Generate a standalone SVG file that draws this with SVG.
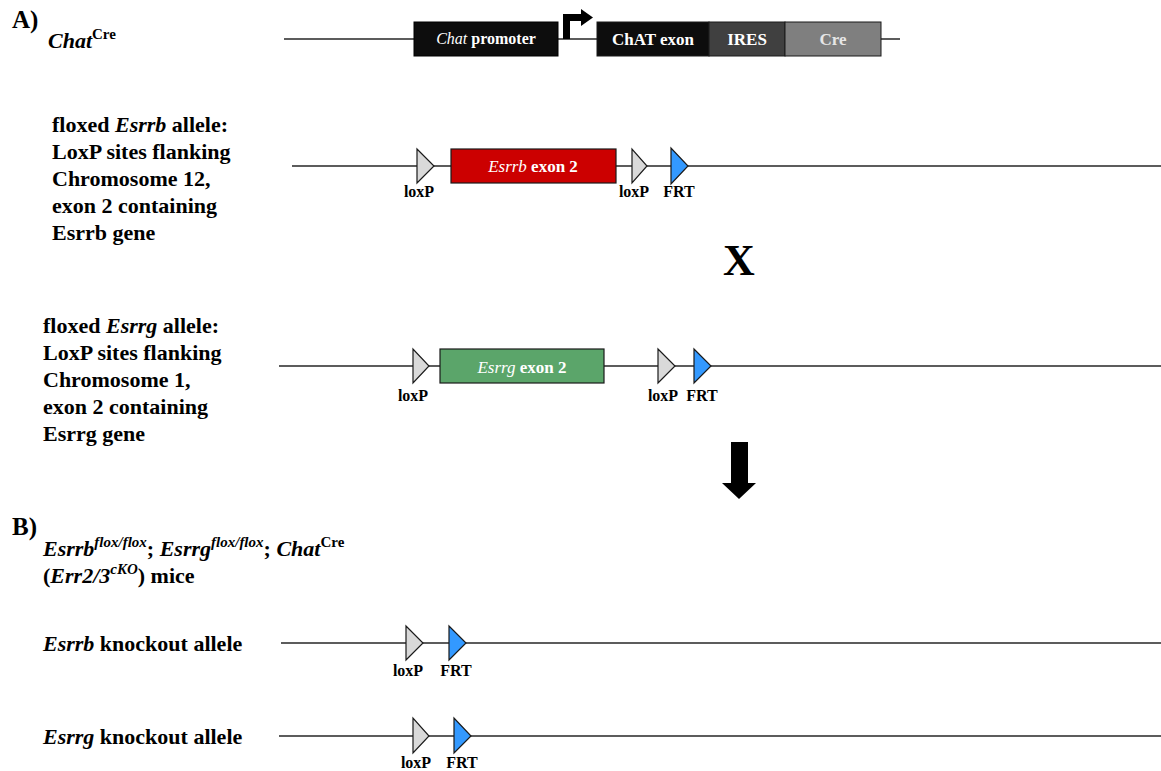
<svg xmlns="http://www.w3.org/2000/svg" width="1161" height="771" viewBox="0 0 1161 771">
<style>
text{font-family:"Liberation Serif","Times New Roman",serif;font-weight:bold;fill:#000}
.it{font-style:italic}
.lbl{font-size:22px}
.sup{font-size:15px}
.site{font-size:16px;text-anchor:middle}
.box{font-size:17px;text-anchor:middle;fill:#fff}
.dna{stroke:#262626;stroke-width:1.6;fill:none}
.lox{fill:#d9d9d9;stroke:#1a1a1a;stroke-width:1.2}
.frt{fill:#3399ff;stroke:#1a1a1a;stroke-width:1.2}
.hd{font-size:25px}
</style>
<rect width="1161" height="771" fill="#fff"/>
<g id="connectors">
<line class="dna" x1="284" y1="39" x2="900" y2="39"/>
<line class="dna" x1="292" y1="166" x2="1161" y2="166"/>
<line class="dna" x1="279" y1="366" x2="1161" y2="366"/>
<line class="dna" x1="281" y1="643" x2="1161" y2="643"/>
<line class="dna" x1="279" y1="736" x2="1161" y2="736"/>
<polygon id="cross-arrow" points="731,442 748,442 748,483 756,483 739,499 722,483 731,483" fill="#000"/>
</g>
<g id="labels">
<text class="hd" x="12" y="28">A)</text>
<text x="48" y="48" style="font-size:22px"><tspan class="it">Chat</tspan><tspan dy="-9" class="sup">Cre</tspan></text>
<g id="label-esrrb" class="lbl">
<text x="52" y="132"><tspan>floxed </tspan><tspan class="it">Esrrb</tspan><tspan> allele:</tspan></text>
<text x="52" y="159">LoxP sites flanking</text>
<text x="52" y="186">Chromosome 12,</text>
<text x="52" y="213">exon 2 containing</text>
<text x="52" y="240">Esrrb gene</text>
</g>
<g id="label-esrrg" class="lbl">
<text x="43" y="333"><tspan>floxed </tspan><tspan class="it">Esrrg</tspan><tspan> allele:</tspan></text>
<text x="43" y="360">LoxP sites flanking</text>
<text x="43" y="387">Chromosome 1,</text>
<text x="43" y="414">exon 2 containing</text>
<text x="43" y="441">Esrrg gene</text>
</g>
<text x="739" y="275" style="font-size:44px;text-anchor:middle">X</text>
<text class="hd" x="12" y="535">B)</text>
<text class="lbl" x="43" y="556"><tspan class="it">Esrrb</tspan><tspan dy="-9" class="sup it">flox/flox</tspan><tspan dy="9">; </tspan><tspan class="it">Esrrg</tspan><tspan dy="-9" class="sup it">flox/flox</tspan><tspan dy="9">; </tspan><tspan class="it">Chat</tspan><tspan dy="-9" class="sup">Cre</tspan></text>
<text class="lbl" x="43" y="583"><tspan>(</tspan><tspan class="it">Err2/3</tspan><tspan dy="-9" class="sup it">cKO</tspan><tspan dy="9">) mice</tspan></text>
<text class="lbl" x="43" y="651"><tspan class="it">Esrrb</tspan><tspan> knockout allele</tspan></text>
<text class="lbl" x="43" y="744"><tspan class="it">Esrrg</tspan><tspan> knockout allele</tspan></text>
</g>
<g id="chat-cre">
<rect x="414" y="22" width="144" height="34" fill="#0d0d0d" stroke="#000"/>
<text class="box" x="486" y="44" style="font-size:16px"><tspan class="it" style="font-weight:normal">Chat</tspan><tspan>  promoter</tspan></text>
<path id="tss" d="M563,39 V14 H582 V21 H570 V39 Z" fill="#000"/>
<polygon points="581,9 581,26 593,17.5" fill="#000"/>
<rect x="597" y="22" width="112" height="34" fill="#0d0d0d" stroke="#1a1a1a"/>
<text class="box" x="653" y="45">ChAT exon</text>
<rect x="709" y="22" width="76" height="34" fill="#404040" stroke="#1a1a1a"/>
<text class="box" x="747" y="45">IRES</text>
<rect x="785" y="22" width="96" height="34" fill="#7f7f7f" stroke="#1a1a1a"/>
<text class="box" x="833" y="45" style="fill:#e6e6e6">Cre</text>
</g>
<g id="floxed-esrrb">
<polygon class="lox" points="417,149 417,183 434,166"/>
<text class="site" x="419" y="197">loxP</text>
<rect x="451" y="149" width="165" height="34" fill="#cc0000" stroke="#1a1a1a" stroke-width="1.2"/>
<text class="box" x="533" y="172"><tspan class="it" style="font-weight:normal">Esrrb</tspan><tspan> exon 2</tspan></text>
<polygon class="lox" points="632,149 632,183 647,166"/>
<text class="site" x="634" y="197">loxP</text>
<polygon class="frt" points="671,148 671,184 688,166"/>
<text class="site" x="679" y="197">FRT</text>
</g>
<g id="floxed-esrrg">
<polygon class="lox" points="413,349 413,383 429,366"/>
<text class="site" x="413" y="401">loxP</text>
<rect x="440" y="349" width="164" height="34" fill="#5ba56a" stroke="#1a1a1a" stroke-width="1.2"/>
<text class="box" x="522" y="373"><tspan class="it" style="font-weight:normal">Esrrg</tspan><tspan> exon 2</tspan></text>
<polygon class="lox" points="658,349 658,383 675,366"/>
<text class="site" x="663" y="401">loxP</text>
<polygon class="frt" points="694,349 694,383 711,366"/>
<text class="site" x="702" y="401">FRT</text>
</g>
<g id="ko-esrrb">
<polygon class="lox" points="406,626 406,660 423,643"/>
<text class="site" x="408" y="676">loxP</text>
<polygon class="frt" points="449,626 449,660 466,643"/>
<text class="site" x="456" y="676">FRT</text>
</g>
<g id="ko-esrrg">
<polygon class="lox" points="413,718 413,753 429,736"/>
<text class="site" x="416" y="768">loxP</text>
<polygon class="frt" points="454,718 454,753 471,736"/>
<text class="site" x="462" y="768">FRT</text>
</g>
</svg>
